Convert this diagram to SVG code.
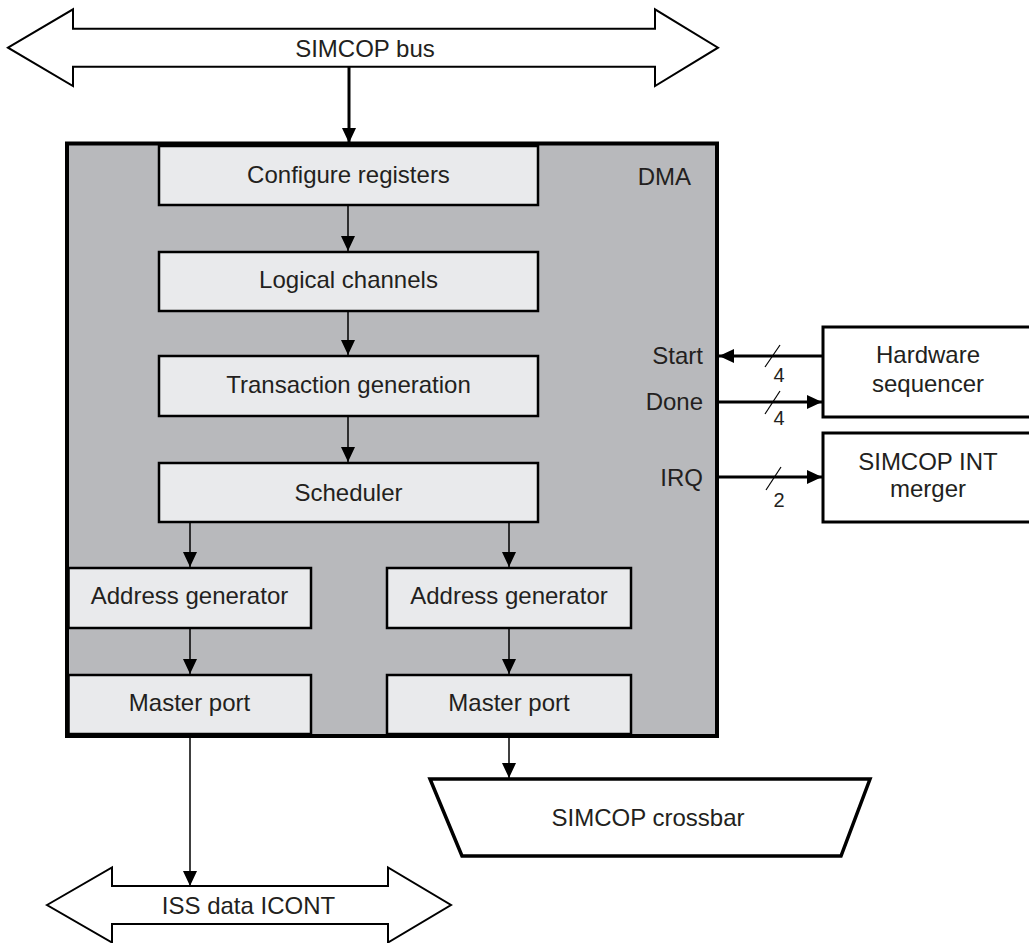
<svg xmlns="http://www.w3.org/2000/svg" width="1029" height="943" viewBox="0 0 1029 943">
<style>
text{font-family:"Liberation Sans",Arial,sans-serif;font-size:24px;fill:#231f20}
.c{text-anchor:middle}
.r{text-anchor:end}
.n{font-size:20px}
.box{fill:#e9eaec;stroke:#000;stroke-width:2.5}
.ext{fill:#fff;stroke:#000;stroke-width:3}
.bus{fill:#fff;stroke:#000;stroke-width:2}
.thin{stroke:#000;stroke-width:1.5;fill:none}
.thick{stroke:#000;stroke-width:3;fill:none}
.slash{stroke:#000;stroke-width:1.2;fill:none}
</style>
<defs>
<marker id="ah" markerUnits="userSpaceOnUse" markerWidth="15" markerHeight="14" refX="15" refY="7" orient="auto">
<path d="M0,0 L15,7 L0,14 z" fill="#000"/>
</marker>
<marker id="ahb" markerUnits="userSpaceOnUse" markerWidth="15" markerHeight="14" refX="15" refY="7" orient="auto">
<path d="M0,0 L15,7 L0,14 z" fill="#000"/>
</marker>
</defs>

<g id="simcop-bus">
<polygon class="bus" points="8,47.7 73,9.3 73,28.7 655,28.7 655,9.3 718,47.7 655,86 655,66.7 73,66.7 73,86"/>
<text class="c" x="365" y="56.5">SIMCOP bus</text>
</g>

<g id="dma">
<rect x="67" y="143.5" width="650" height="592.5" fill="#b8b9bc" stroke="#000" stroke-width="4"/>
<text class="r" x="691" y="185">DMA</text>
<text class="r" x="703" y="364">Start</text>
<text class="r" x="703" y="410">Done</text>
<text class="r" x="703" y="486">IRQ</text>
</g>

<g id="configure-registers">
<rect class="box" x="159" y="146" width="379" height="59"/>
<text class="c" x="348.5" y="182.5">Configure registers</text>
</g>
<g id="logical-channels">
<rect class="box" x="159" y="252" width="379" height="59"/>
<text class="c" x="348.5" y="288">Logical channels</text>
</g>
<g id="transaction-generation">
<rect class="box" x="159" y="356" width="379" height="60"/>
<text class="c" x="348.5" y="393">Transaction generation</text>
</g>
<g id="scheduler">
<rect class="box" x="159" y="463" width="379" height="59"/>
<text class="c" x="348.5" y="501">Scheduler</text>
</g>
<g id="address-generator-1">
<rect class="box" x="68.5" y="568" width="242.5" height="60"/>
<text class="c" x="189.5" y="604">Address generator</text>
</g>
<g id="address-generator-2">
<rect class="box" x="387" y="568" width="244" height="60"/>
<text class="c" x="509" y="604">Address generator</text>
</g>
<g id="master-port-1">
<rect class="box" x="68.5" y="675" width="242.5" height="59"/>
<text class="c" x="189.5" y="711">Master port</text>
</g>
<g id="master-port-2">
<rect class="box" x="387" y="675" width="244" height="59"/>
<text class="c" x="509" y="711">Master port</text>
</g>

<g id="hardware-sequencer">
<rect class="ext" x="823" y="327" width="210" height="90"/>
<text class="c" x="928" y="363">Hardware</text>
<text class="c" x="928" y="392">sequencer</text>
</g>
<g id="simcop-int-merger">
<rect class="ext" x="823" y="433" width="210" height="89"/>
<text class="c" x="928" y="470">SIMCOP INT</text>
<text class="c" x="928" y="497">merger</text>
</g>

<g id="simcop-crossbar">
<polygon points="430,779 870,779 841,856 462,856" fill="#fff" stroke="#000" stroke-width="3.5" stroke-linejoin="miter"/>
<text class="c" x="648" y="826">SIMCOP crossbar</text>
</g>

<g id="iss-data-icont">
<polygon class="bus" points="47,905 112,867.5 112,886 388,886 388,867.5 451,905 388,942.5 388,924 112,924 112,942.5"/>
<text class="c" x="248.5" y="913.5">ISS data ICONT</text>
</g>

<g id="connectors">
<line class="thick" x1="349" y1="67" x2="349" y2="143" marker-end="url(#ahb)"/>
<line class="thin" x1="348" y1="206" x2="348" y2="251" marker-end="url(#ah)"/>
<line class="thin" x1="348" y1="312" x2="348" y2="355" marker-end="url(#ah)"/>
<line class="thin" x1="348" y1="417" x2="348" y2="462" marker-end="url(#ah)"/>
<line class="thin" x1="190" y1="523" x2="190" y2="567" marker-end="url(#ah)"/>
<line class="thin" x1="509" y1="523" x2="509" y2="567" marker-end="url(#ah)"/>
<line class="thin" x1="190" y1="629" x2="190" y2="674" marker-end="url(#ah)"/>
<line class="thin" x1="509" y1="629" x2="509" y2="674" marker-end="url(#ah)"/>
<line class="thin" x1="190" y1="737" x2="190" y2="886" marker-end="url(#ah)"/>
<line class="thin" x1="509" y1="737" x2="509" y2="778" marker-end="url(#ah)"/>
<line class="thick" x1="822" y1="356" x2="719" y2="356" marker-end="url(#ahb)"/>
<line class="thick" x1="719" y1="402" x2="822" y2="402" marker-end="url(#ahb)"/>
<line class="thick" x1="719" y1="477" x2="822" y2="477" marker-end="url(#ahb)"/>
<line class="slash" x1="765" y1="367" x2="780" y2="345"/>
<line class="slash" x1="765" y1="414" x2="780" y2="391"/>
<line class="slash" x1="766" y1="490" x2="781" y2="467"/>
<text class="c n" x="779" y="382">4</text>
<text class="c n" x="779" y="425">4</text>
<text class="c n" x="779" y="507">2</text>
</g>
</svg>
